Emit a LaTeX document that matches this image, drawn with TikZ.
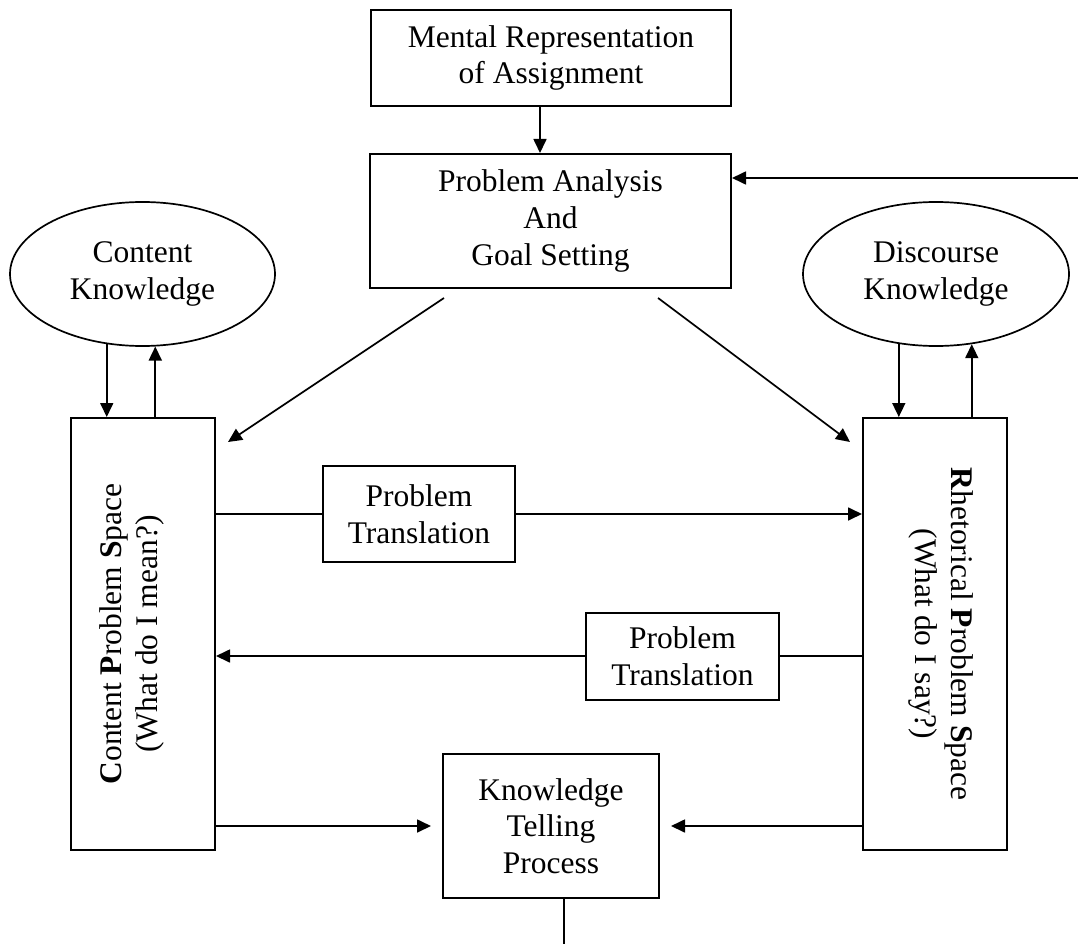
\documentclass[tikz,border=0pt]{standalone}
\usepackage{fontspec}
\setmainfont{Liberation Serif}
\usetikzlibrary{arrows.meta,shapes.geometric}
\begin{document}
\begin{tikzpicture}[x=1pt,y=-1pt,
  txt/.style={font=\fontsize{31.5}{36.7}\selectfont, align=center},
  box/.style={draw, line width=2pt, inner sep=0pt, txt},
  oval/.style={draw, ellipse, line width=1.7pt, inner sep=0pt, txt},
  link/.style={line width=1.7pt},
  arr/.style={link, -{Triangle[length=14pt,width=13pt]}}]

% page area
\fill[white] (0,0) rectangle (1078,944);
\useasboundingbox (0,0) rectangle (1078,944);

% boxes and knowledge stores
\node[box, minimum width=360pt, minimum height=96pt] (mr) at (551,58) {Mental Representation\\of Assignment};
\node[box, minimum width=361pt, minimum height=134pt] (pa) at (550.5,221) {Problem Analysis\\And\\Goal Setting};
\node[oval, minimum width=265pt, minimum height=144pt] (ck) at (142.5,274) {Content\\Knowledge};
\node[oval, minimum width=266pt, minimum height=144pt] (dk) at (936,274) {Discourse\\Knowledge};

\node[box, minimum width=144pt, minimum height=432pt] (cps) at (143,634) {};
\node[txt, rotate=90] (cpst) at (132,634) {\textbf{C}ontent \textbf{P}roblem \textbf{S}pace\\(What do I mean?)};
\node[box, minimum width=144pt, minimum height=432pt] (rps) at (935,634) {};
\node[txt, rotate=-90] (rpst) at (941,634) {\textbf{R}hetorical \textbf{P}roblem \textbf{S}pace\\(What do I say?)};

\node[box, minimum width=192pt, minimum height=96pt] (pt1) at (419,514) {Problem\\Translation};
\node[box, minimum width=193pt, minimum height=87pt] (pt2) at (682.5,656) {Problem\\Translation};
\node[box, minimum width=216pt, minimum height=144pt] (kt) at (551,826) {Knowledge\\Telling\\Process};

% free ends
\coordinate (fb) at (1078,178);
\coordinate (d1a) at (444,298);
\coordinate (d1b) at (228,442);
\coordinate (d2a) at (658,298);
\coordinate (d2b) at (850,442);
\coordinate (kout) at (564,944);

% connectors
\draw[arr] ([xshift=-11pt]mr.south) -- ([xshift=-11pt]mr.south |- pa.north);
\draw[arr] (fb) -- (fb -| pa.east);

\draw[arr] (ck.243) -- (ck.243 |- cps.north);
\draw[arr] (ck.280 |- cps.north) -- (ck.280);
\draw[arr] (dk.242) -- (dk.242 |- rps.north);
\draw[arr] (dk.297 |- rps.north) -- (dk.297);

\draw[arr] (d1a) -- (d1b);
\draw[arr] (d2a) -- (d2b);

\draw[link] (pt1.west -| cps.east) -- (pt1.west);
\draw[arr] (pt1.east) -- (pt1.east -| rps.west);
\draw[link] (pt2.east -| rps.west) -- (pt2.east);
\draw[arr] (pt2.west) -- (pt2.west -| cps.east);

\draw[arr, shorten >=11pt] (kt.west -| cps.east) -- (kt.west);
\draw[arr, shorten >=11pt] (kt.east -| rps.west) -- (kt.east);
\draw[link] ([xshift=13pt]kt.south) -- (kout);
\end{tikzpicture}
\end{document}
